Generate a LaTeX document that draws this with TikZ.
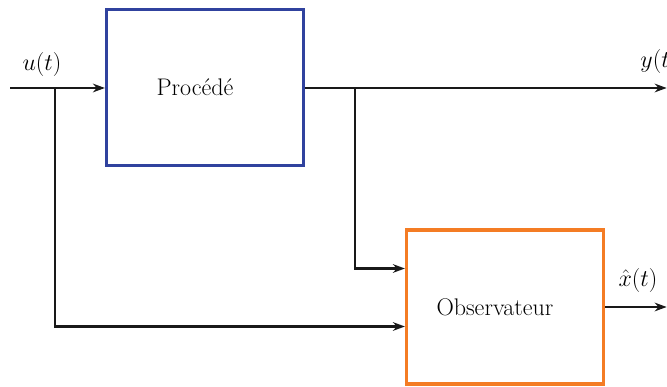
\documentclass[tikz,border=0pt]{standalone}
\usepackage{fix-cm}
\usepackage{amsmath}
\usetikzlibrary{positioning,arrows.meta,calc}
\definecolor{procblue}{RGB}{48,66,158}
\definecolor{obsorange}{RGB}{244,124,36}
\tikzset{
  procbox/.style={rectangle, draw=procblue, line width=3pt, minimum width=5.9cm,
                  minimum height=4.68cm, font=\fontsize{20.5}{24}\selectfont},
  obsbox/.style ={rectangle, draw=obsorange, line width=3pt, minimum width=5.9cm,
                  minimum height=4.62cm, font=\fontsize{20.5}{24}\selectfont},
  sig/.style    ={-{Stealth[length=3.6mm,width=2.6mm]}, line width=2.4pt, draw=black!90},
  lbl/.style    ={font=\fontsize{20.5}{24}\selectfont},
}
\begin{document}
\begin{tikzpicture}
  \useasboundingbox (0,0) rectangle (20.01,11.61);
  \node[procbox] (proc) at (6.15,8.985) {Procédé\hspace*{0.6cm}};
  \node[obsbox]  (obs)  at (15.15,2.4)  {Observateur\hspace*{0.6cm}};
  % points of the input and output lines
  \coordinate (uin)  at (0.3,8.97);
  \coordinate (utap) at (1.65,8.97);
  \coordinate (ytap) at (10.65,8.97);
  \coordinate (yout) at (20.0,8.97);
  \coordinate (xout) at (20.0,2.4);
  \node[lbl] (ulbl) at (1.26,9.68) {$u(t)$};
  \node[lbl] (ylbl) at (19.78,9.75) {$y(t)$};
  \node[lbl] (xlbl) at (19.14,3.2) {$\hat{x}(t)$};
  \draw[sig] (uin) -- (proc.west |- uin);
  \draw[sig] (proc.east |- ytap) -- (yout);
  \draw[sig] (ytap) |- ([yshift=1.155cm]obs.west);
  \draw[sig] (utap) |- ([yshift=-0.585cm]obs.west);
  \draw[sig] (obs.east) -- (xout);
\end{tikzpicture}
\end{document}
